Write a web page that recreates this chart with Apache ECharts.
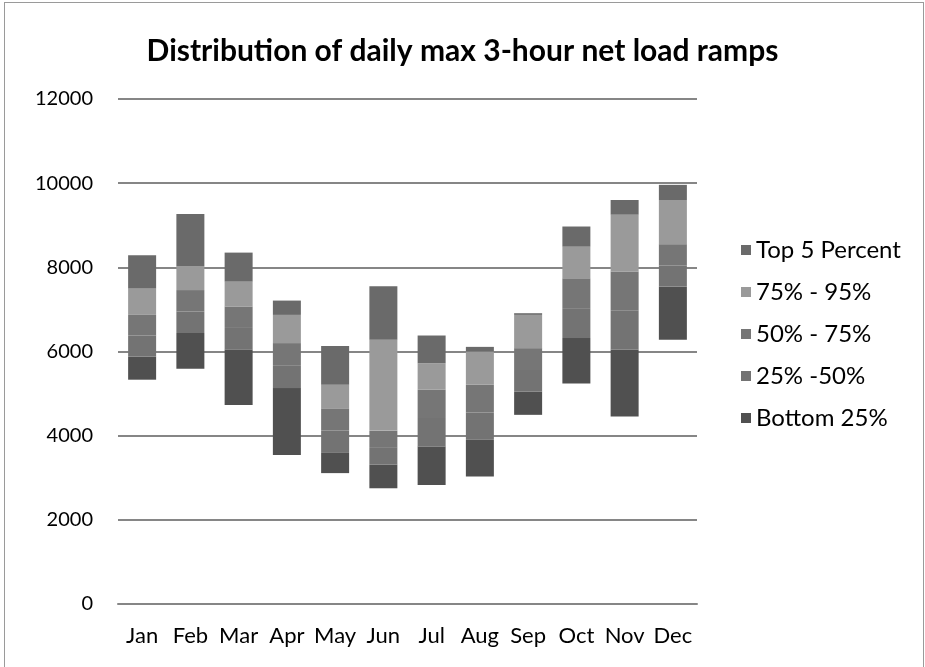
<!DOCTYPE html>
<html>
<head>
<meta charset="utf-8">
<script src="https://cdn.jsdelivr.net/npm/echarts@6/dist/echarts.min.js"></script>
<style>
html, body { margin: 0; padding: 0; background: #fff; }
#frame { position: absolute; left: 4px; top: 2px; width: 920px; height: 670px; border: 1px solid #9a9a9a; box-sizing: border-box; }
#chart { width: 925px; height: 667px; }
</style>
</head>
<body>
<div id="frame"></div>
<div id="chart"></div>
<script>
// months on the x axis
const months = ['Jan', 'Feb', 'Mar', 'Apr', 'May', 'Jun', 'Jul', 'Aug', 'Sep', 'Oct', 'Nov', 'Dec']

// percentile boundaries (MW)
const minVal = [5330, 5590, 4730, 3540, 3110, 2750, 2830, 3030, 4495, 5240, 4455, 6277]
const p25 = [5880, 6440, 6040, 5130, 3590, 3310, 3740, 3900, 5050, 6320, 6040, 7540]
const p50 = [6380, 6950, 6560, 5660, 4120, 3710, 4420, 4550, 5560, 7030, 6970, 8040]
const p75 = [6870, 7460, 7070, 6200, 4650, 4120, 5090, 5210, 6080, 7740, 7900, 8550]
const p95 = [7500, 8020, 7660, 6870, 5210, 6280, 5720, 6000, 6870, 8490, 9250, 9600]
const maxVal = [8290, 9270, 8350, 7210, 6130, 7550, 6380, 6110, 6910, 8970, 9600, 9960]

const yTicks = [0, 2000, 4000, 6000, 8000, 10000, 12000]

const diff = (hi, lo) => hi.map((v, i) => v - lo[i])

// the two middle bands are almost the same grey in the original
const bands = [
	{ name: 'Bottom 25%', data: diff(p25, minVal), color: '#505050' },
	{ name: '25% -50%', data: diff(p50, p25), color: '#737373' },
	{ name: '50% - 75%', data: diff(p75, p50), color: '#767676' },
	{ name: '75% - 95%', data: diff(p95, p75), color: '#9a9a9a' },
	{ name: 'Top 5 Percent', data: diff(maxVal, p95), color: '#6a6a6a' },
]

const mychart = echarts.init(document.getElementById('chart'))

const series = [
	{
		name: 'base',
		type: 'bar',
		stack: 'ramp',
		barWidth: 28,
		data: minVal,
		itemStyle: { color: 'transparent' },
		silent: true,
	},
].concat(bands.map((b) => ({
	name: b.name,
	type: 'bar',
	stack: 'ramp',
	barWidth: 28,
	data: b.data,
	itemStyle: { color: b.color },
})))

mychart.setOption({
	animation: false,
	textStyle: { fontFamily: 'Lato' },
	title: {
		text: 'Distribution of daily max 3-hour net load ramps',
		left: 'center',
		top: 31,
		textStyle: { fontSize: 30, fontWeight: 'bold', color: '#000', fontFamily: 'Lato' },
	},
	legend: {
		orient: 'vertical',
		left: 736,
		top: 233,
		itemGap: 18,
		itemWidth: 10,
		itemHeight: 10,
		icon: 'rect',
		data: ['Top 5 Percent', '75% - 95%', '50% - 75%', '25% -50%', 'Bottom 25%'],
		textStyle: { fontSize: 24, color: '#000', fontFamily: 'Lato' },
	},
	grid: {
		left: 118,
		right: 228,
		top: 99,
		bottom: 63,
	},
	xAxis: {
		type: 'category',
		data: months,
		axisTick: { show: false },
		axisLine: { lineStyle: { color: '#868686', width: 2 } },
		axisLabel: { fontSize: 22, color: '#000', margin: 21, interval: 0 },
	},
	yAxis: {
		type: 'value',
		min: yTicks[0],
		max: yTicks[yTicks.length - 1],
		interval: 2000,
		axisLine: { show: false },
		axisTick: { show: false },
		axisLabel: { fontSize: 20, color: '#000', margin: 25, formatter: (v) => String(v) },
		splitLine: { lineStyle: { color: '#868686', width: 2 } },
	},
	series: series,
})
</script>
</body>
</html>
